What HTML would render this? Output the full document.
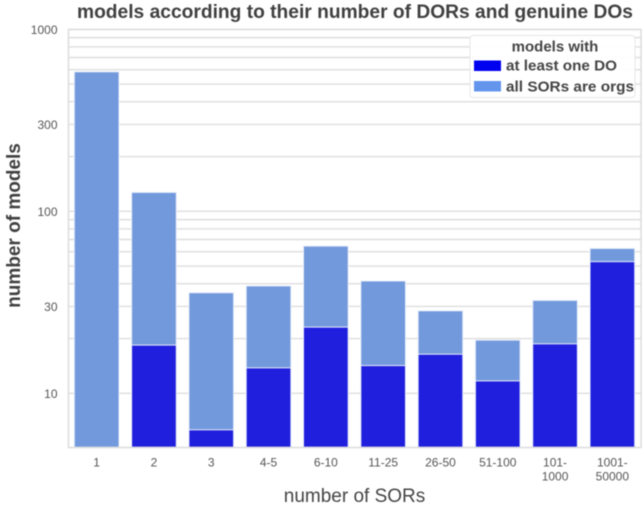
<!DOCTYPE html>
<html>
<head>
<meta charset="utf-8">
<style>
html,body{margin:0;padding:0;background:#fff;width:644px;height:505px;overflow:hidden}
svg{display:block;font-family:"Liberation Sans",sans-serif;filter:blur(0.45px)}
</style>
</head>
<body>
<svg id="chart" xmlns="http://www.w3.org/2000/svg" width="644" height="505" viewBox="0 0 644 505">
  <text x="355" y="18" text-anchor="middle" font-size="19" font-weight="bold" fill="#404040" textLength="556" lengthAdjust="spacingAndGlyphs">models according to their number of DORs and genuine DOs</text>
  <text transform="translate(20,225.5) rotate(-90)" text-anchor="middle" font-size="19" font-weight="bold" fill="#404040">number of models</text>
  <text x="354.5" y="502" text-anchor="middle" font-size="19" fill="#444">number of SORs</text>
  <g id="grid"></g>
  <g id="bars"></g>
  <g id="yticks"></g>
  <g id="xticks"></g>
  <rect x="68.5" y="29.5" width="572.5" height="418" fill="none" stroke="#dcdcdc" stroke-width="1.5"></rect>
  <g>
    <rect x="470" y="35.5" width="165" height="62" rx="3" fill="#fff" fill-opacity="0.93" stroke="#e6e6e6" stroke-width="1"></rect>
    <text x="555" y="51.5" text-anchor="middle" font-size="15" font-weight="bold" fill="#444">models with</text>
    <rect x="474" y="60.5" width="27" height="10.5" fill="#0000f0"></rect>
    <text x="506" y="70.5" font-size="15" font-weight="bold" fill="#444" textLength="111" lengthAdjust="spacingAndGlyphs">at least one DO</text>
    <rect x="474" y="81" width="27" height="10.5" fill="#6495ed"></rect>
    <text x="506" y="91.5" font-size="15" font-weight="bold" fill="#444" textLength="128" lengthAdjust="spacingAndGlyphs">all SORs are orgs</text>
  </g>
</svg>
<script>
const categories = ["1", "2", "3", "4-5", "6-10", "11-25", "26-50", "51-100", "101-|1000", "1001-|50000"];
const allSorsAreOrgs = [584, 127, 35.7, 38.9, 64.4, 41.4, 28.4, 19.6, 32.4, 62.5];
const atLeastOneDo = [0, 18.4, 6.3, 13.8, 23.1, 14.2, 16.4, 11.7, 18.7, 52.9];
const yTickValues = [1000, 300, 100, 30, 10];
const gridValues = [1000, 900, 800, 700, 600, 500, 400, 300, 200, 100, 90, 80, 70, 60, 50, 40, 30, 20, 10];

const SVG_NS = "http://www.w3.org/2000/svg";
const plotLeft = 68, plotRight = 641, plotBottom = 447.3, y100 = 211.3, pxPerDecade = 182;
const step = (plotRight - plotLeft) / categories.length;
const barWidth = step * 0.78;

function yScale(v) { return y100 - pxPerDecade * (Math.log10(v) - 2); }
function xCenter(i) { return plotLeft + step * (i + 0.5); }

const grid = document.getElementById("grid");
const bars = document.getElementById("bars");
const yticks = document.getElementById("yticks");
const xticks = document.getElementById("xticks");

gridValues.forEach(function (v) {
  const line = document.createElementNS(SVG_NS, "line");
  
  
  line.setAttribute("x1", plotLeft);
  line.setAttribute("x2", plotRight);
  line.setAttribute("y1", yScale(v));
  line.setAttribute("y2", yScale(v));
  line.setAttribute("stroke", "#dedede");
  line.setAttribute("stroke-width", "1.4");
  grid.appendChild(line);
});

categories.forEach(function (c, i) {
  const x = xCenter(i) - barWidth / 2;
  const top = yScale(allSorsAreOrgs[i]);
  const light = document.createElementNS(SVG_NS, "rect");
  
  
  light.setAttribute("x", x);
  light.setAttribute("y", top);
  light.setAttribute("width", barWidth);
  light.setAttribute("height", plotBottom - top);
  light.setAttribute("fill", "#7299dc");
  light.setAttribute("stroke", "#e8eefa");
  light.setAttribute("stroke-width", "1");
  bars.appendChild(light);

  if (atLeastOneDo[i] > 0) {
    const dTop = yScale(atLeastOneDo[i]);
    const dark = document.createElementNS(SVG_NS, "rect");
    
    
    dark.setAttribute("x", x);
    dark.setAttribute("y", dTop);
    dark.setAttribute("width", barWidth);
    dark.setAttribute("height", plotBottom - dTop);
    dark.setAttribute("fill", "#201fdd");
    dark.setAttribute("stroke", "#e8eefa");
    dark.setAttribute("stroke-width", "1");
    bars.appendChild(dark);
  }

  c.split("|").forEach(function (part, k) {
    const t = document.createElementNS(SVG_NS, "text");
    
    
    t.setAttribute("x", xCenter(i));
    t.setAttribute("y", 466.5 + k * 14);
    t.setAttribute("text-anchor", "middle");
    t.setAttribute("font-size", "12");
    t.setAttribute("fill", "#555");
    t.textContent = part;
    xticks.appendChild(t);
  });
});

yTickValues.forEach(function (v) {
  const t = document.createElementNS(SVG_NS, "text");
  
  
  t.setAttribute("x", 57.5);
  t.setAttribute("y", yScale(v) + 4.5);
  t.setAttribute("text-anchor", "end");
  t.setAttribute("font-size", "12");
  t.setAttribute("fill", "#555");
  t.textContent = v;
  yticks.appendChild(t);
});
</script>
</body>
</html>
